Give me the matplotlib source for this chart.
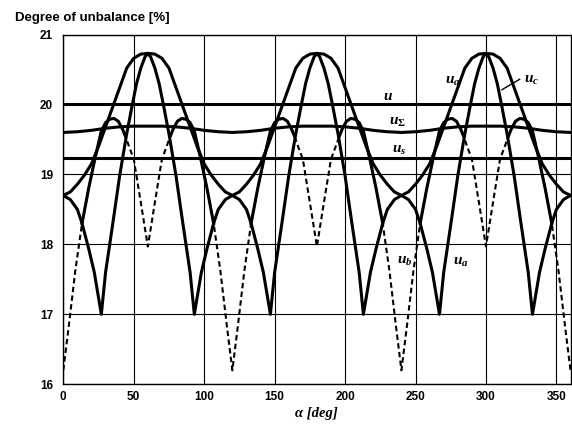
import numpy as np
import matplotlib
matplotlib.use("Agg")
import matplotlib.pyplot as plt

plt.rcParams['font.family'] = ['Liberation Sans', 'DejaVu Sans']
plt.rcParams['mathtext.fontset'] = 'custom'
plt.rcParams['mathtext.it'] = 'Liberation Serif:italic:bold'
plt.rcParams['mathtext.rm'] = 'Liberation Serif:bold'

# constant degrees of unbalance
alpha_const = [0, 360]
u_total = [20.0, 20.0]
u_s = [19.23, 19.23]

# u_sigma, read every 10 deg
alpha_sig = list(range(0, 361, 10))
u_sig = [19.60, 19.61, 19.63, 19.66, 19.68, 19.69, 19.69, 19.69, 19.68, 19.66, 19.63, 19.61,
         19.60, 19.61, 19.63, 19.66, 19.68, 19.69, 19.69, 19.69, 19.68, 19.66, 19.63, 19.61,
         19.60, 19.61, 19.63, 19.66, 19.68, 19.69, 19.69, 19.69, 19.68, 19.66, 19.63, 19.61,
         19.60]

# wide bell-shaped phase curve
alpha_w = list(range(0, 361, 5))
u_w = [18.70, 18.75, 18.86, 18.99, 19.15, 19.40, 19.68, 19.96, 20.24, 20.52, 20.66, 20.72,
       20.73, 20.72, 20.66, 20.52, 20.24, 19.96, 19.68, 19.40, 19.15, 18.99, 18.86, 18.75,
       18.70, 18.75, 18.86, 18.99, 19.15, 19.40, 19.68, 19.96, 20.24, 20.52, 20.66, 20.72,
       20.73, 20.72, 20.66, 20.52, 20.24, 19.96, 19.68, 19.40, 19.15, 18.99, 18.86, 18.75,
       18.70, 18.75, 18.86, 18.99, 19.15, 19.40, 19.68, 19.96, 20.24, 20.52, 20.66, 20.72,
       20.73, 20.72, 20.66, 20.52, 20.24, 19.96, 19.68, 19.40, 19.15, 18.99, 18.86, 18.75,
       18.70]

# narrow phase curve with the sharp minima at 17 %
alpha_n = [0, 5, 10, 13.3, 18, 22, 27, 30, 35, 40, 45, 49, 52, 55, 58, 60,
           62, 65, 68, 71, 75, 80, 85, 90, 93, 98, 102, 106.7, 110, 115,
           120, 125, 130, 133.3, 138, 142, 147, 150, 155, 160, 165, 169, 172, 175, 178, 180,
           182, 185, 188, 191, 195, 200, 205, 210, 213, 218, 222, 226.7, 230, 235,
           240, 245, 250, 253.3, 258, 262, 267, 270, 275, 280, 285, 289, 292, 295, 298, 300,
           302, 305, 308, 311, 315, 320, 325, 330, 333, 338, 342, 346.7, 350, 355,
           360]
u_n = [18.70, 18.64, 18.50, 18.30, 17.94, 17.60, 17.00, 17.60, 18.28, 18.98, 19.58, 20.00,
       20.30, 20.52, 20.68, 20.73, 20.68, 20.52, 20.30, 20.00, 19.58, 18.98, 18.28, 17.60,
       17.00, 17.60, 17.94, 18.30, 18.50, 18.64,
       18.70, 18.64, 18.50, 18.30, 17.94, 17.60, 17.00, 17.60, 18.28, 18.98, 19.58, 20.00,
       20.30, 20.52, 20.68, 20.73, 20.68, 20.52, 20.30, 20.00, 19.58, 18.98, 18.28, 17.60,
       17.00, 17.60, 17.94, 18.30, 18.50, 18.64,
       18.70, 18.64, 18.50, 18.30, 17.94, 17.60, 17.00, 17.60, 18.28, 18.98, 19.58, 20.00,
       20.30, 20.52, 20.68, 20.73, 20.68, 20.52, 20.30, 20.00, 19.58, 18.98, 18.28, 17.60,
       17.00, 17.60, 17.94, 18.30, 18.50, 18.64,
       18.70]

# u_b: dashed in its lower parts
alpha_b = [0, 4, 8.5, 13.3, 18, 22, 24, 27, 30, 33, 36, 39, 42, 44, 47, 50, 55, 60,
           65, 70, 73, 76, 78, 81, 84, 87, 90, 93, 96, 98, 102, 106.7, 111.5, 116,
           120, 124, 128.5, 133.3, 138, 142, 144, 147, 150, 153, 156, 159, 162, 164, 167, 170, 175, 180,
           185, 190, 193, 196, 198, 201, 204, 207, 210, 213, 216, 218, 222, 226.7, 231.5, 236,
           240, 244, 248.5, 253.3, 258, 262, 264, 267, 270, 273, 276, 279, 282, 284, 287, 290, 295, 300,
           305, 310, 313, 316, 318, 321, 324, 327, 330, 333, 336, 338, 342, 346.7, 351.5, 356,
           360]
u_b = [16.20, 16.85, 17.62, 18.30, 18.80, 19.18, 19.36, 19.62, 19.74, 19.79, 19.80, 19.76,
       19.65, 19.55, 19.38, 19.22, 18.60, 17.97, 18.60, 19.22, 19.38, 19.55, 19.65, 19.76,
       19.80, 19.79, 19.74, 19.62, 19.36, 19.18, 18.80, 18.30, 17.62, 16.85,
       16.20, 16.85, 17.62, 18.30, 18.80, 19.18, 19.36, 19.62, 19.74, 19.79, 19.80, 19.76,
       19.65, 19.55, 19.38, 19.22, 18.60, 17.97, 18.60, 19.22, 19.38, 19.55, 19.65, 19.76,
       19.80, 19.79, 19.74, 19.62, 19.36, 19.18, 18.80, 18.30, 17.62, 16.85,
       16.20, 16.85, 17.62, 18.30, 18.80, 19.18, 19.36, 19.62, 19.74, 19.79, 19.80, 19.76,
       19.65, 19.55, 19.38, 19.22, 18.60, 17.97, 18.60, 19.22, 19.38, 19.55, 19.65, 19.76,
       19.80, 19.79, 19.74, 19.62, 19.36, 19.18, 18.80, 18.30, 17.62, 16.85,
       16.20]

x_ticks = [0, 50, 100, 150, 200, 250, 300, 350]
y_ticks = [16, 17, 18, 19, 20, 21]

W, H = 572, 426
left, right, top, bottom = 63.3, 570.5, 34.5, 384.3

fig = plt.figure(figsize=(W / 100, H / 100), dpi=100)
ax = fig.add_axes([left / W, 1 - bottom / H, (right - left) / W, (bottom - top) / H])

lw = 2.2
ax.plot(alpha_const, u_total, color='black', lw=lw)
ax.plot(alpha_const, u_s, color='black', lw=lw)
ax.plot(alpha_sig, u_sig, color='black', lw=lw)
ax.plot(alpha_w, u_w, color='black', lw=lw)
ax.plot(alpha_n, u_n, color='black', lw=lw)

# u_b: dashed everywhere, solid between the crossings
ab = np.array(alpha_b)
ub = np.array(u_b)
ax.plot(ab, ub, color='black', lw=1.5, linestyle=(0, (2.6, 1.6)))
m = ab % 120
solid = ((m >= 13.2) & (m <= 44.1)) | ((m >= 75.9) & (m <= 106.8))
ax.plot(ab, np.where(solid, ub, np.nan), color='black', lw=lw)

ax.set_xlim(0, 360)
ax.set_ylim(16, 21)
ax.set_xticks(x_ticks)
ax.set_yticks(y_ticks)
ax.grid(True, color='black', lw=0.8)
ax.set_axisbelow(True)
for s in ax.spines.values():
    s.set_linewidth(1.0)
ax.tick_params(length=0, labelsize=8.5)
ax.tick_params(axis='y', pad=7.5)
ax.tick_params(axis='x', pad=5)
for t in ax.get_xticklabels() + ax.get_yticklabels():
    t.set_fontweight('bold')

fig.text(15 / W, 1 - 20.7 / H, 'Degree of unbalance [%]', fontsize=9.5,
         fontweight='bold', ha='left', va='baseline')
fig.text(316 / W, 1 - 413 / H, 'α [deg]', fontsize=10.5, fontweight='bold',
         style='italic', family='Liberation Serif', ha='center', va='center')

# curve labels
lab = dict(fontsize=11, ha='left', va='baseline', color='black')
ax.text(227.2, 20.06, r'$u$', **lab)
ax.text(231.0, 19.71, r'$u_\Sigma$', **lab)
ax.text(233.6, 19.31, r'$u_s$', **lab)
ax.text(270.7, 20.30, r'$u_a$', **lab)
ax.text(326.7, 20.31, r'$u_c$', **lab)
ax.text(236.7, 17.72, r'$u_b$', **lab)
ax.text(276.4, 17.70, r'$u_a$', **lab)
ax.plot([323.9, 311.3], [20.36, 20.21], color='black', lw=1.0)

fig.savefig('out.png', dpi=100)
